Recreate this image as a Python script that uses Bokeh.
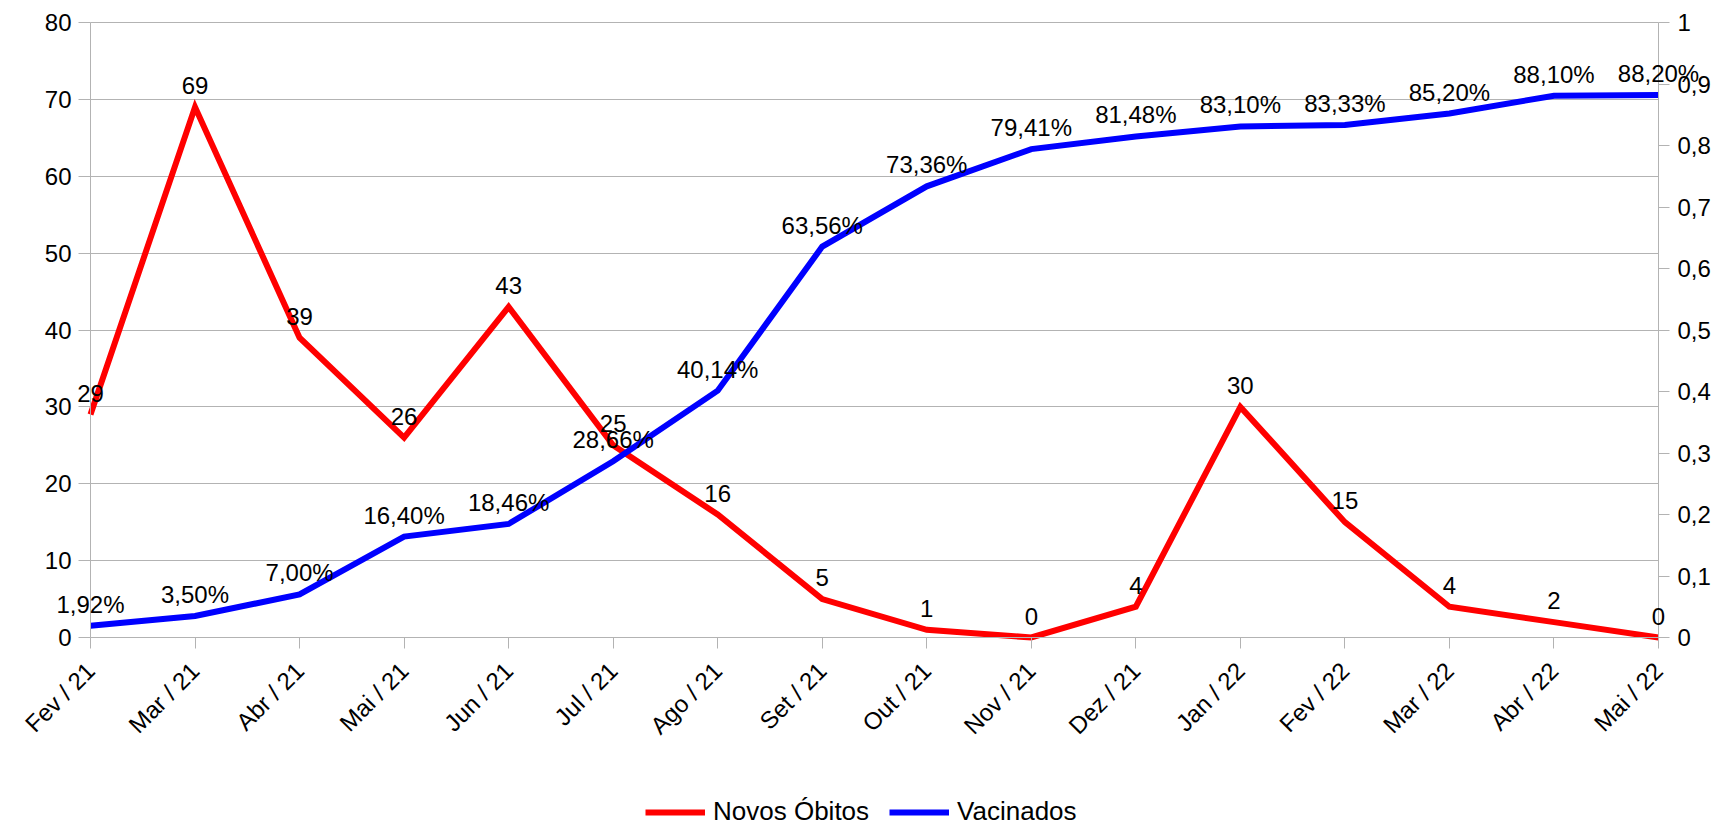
from bokeh.plotting import figure
from bokeh.models import (Range1d, LinearAxis, FixedTicker, ColumnDataSource,
                          LabelSet, Legend, LegendItem, Grid)
from bokeh.core.properties import value
from bokeh.embed import file_html
from bokeh.resources import INLINE

months = ["Fev / 21", "Mar / 21", "Abr / 21", "Mai / 21", "Jun / 21", "Jul / 21",
          "Ago / 21", "Set / 21", "Out / 21", "Nov / 21", "Dez / 21", "Jan / 22",
          "Fev / 22", "Mar / 22", "Abr / 22", "Mai / 22"]
obitos = [29, 69, 39, 26, 43, 25, 16, 5, 1, 0, 4, 30, 15, 4, 2, 0]
vacinados = [0.0192, 0.0350, 0.0700, 0.1640, 0.1846, 0.2866, 0.4014, 0.6356,
             0.7336, 0.7941, 0.8148, 0.8310, 0.8333, 0.8520, 0.8810, 0.8820]
left_ticks = [0, 10, 20, 30, 40, 50, 60, 70, 80]
right_ticks = [0, 0.1, 0.2, 0.3, 0.4, 0.5, 0.6, 0.7, 0.8, 0.9, 1]
right_tick_labels = ["0", "0,1", "0,2", "0,3", "0,4", "0,5", "0,6", "0,7", "0,8", "0,9", "1"]

FONT = "Liberation Sans"
GREY = "#b3b3b3"

# canvas layout (figure pixels); the frame fills the whole canvas so that
# labels near the edges are never clipped
W, H = 1721, 828
AX_L, AX_R = 90, 1658      # x of first / last category
AX_T, AX_B = 22, 637       # y of top (80 / 1) and bottom (0)
n = len(months)
ppx = (AX_R - AX_L) / (n - 1)
x_start, x_end = -AX_L / ppx, (n - 1) + (W - AX_R) / ppx
L_MAX, R_MAX = left_ticks[-1], right_ticks[-1]
ppl = (AX_B - AX_T) / L_MAX
ppr = (AX_B - AX_T) / R_MAX

xs = list(range(n))
src = ColumnDataSource(dict(
    x=xs, ob=obitos, vac=vacinados,
    ob_lbl=[str(v) for v in obitos],
    vac_lbl=[("%.2f%%" % (v * 100)).replace(".", ",") for v in vacinados],
))

p = figure(width=W, height=H, output_backend="svg", toolbar_location=None,
           x_range=Range1d(x_start, x_end),
           y_range=Range1d(-(H - AX_B) / ppl, L_MAX + AX_T / ppl),
           min_border=0, min_border_left=0, min_border_right=0,
           min_border_top=0, min_border_bottom=0)
p.outline_line_color = None
p.background_fill_color = "white"
p.border_fill_color = "white"
p.extra_y_ranges = {"pct": Range1d(-(H - AX_B) / ppr, R_MAX + AX_T / ppr)}


def style_axis(ax):
    ax.axis_line_color = GREY
    ax.major_tick_line_color = GREY
    ax.major_tick_in = 0
    ax.major_tick_out = 11
    ax.minor_tick_line_color = None
    ax.major_label_text_font = FONT
    ax.major_label_text_font_size = "24px"
    ax.major_label_text_color = "black"
    ax.major_label_standoff = 7


xa = p.xaxis[0]
xa.ticker = FixedTicker(ticks=xs)
xa.bounds = (0, n - 1)
xa.fixed_location = 0
xa.major_label_overrides = {i: m for i, m in enumerate(months)}
xa.major_label_orientation = 0.785398
style_axis(xa)
xa.major_label_standoff = 18

ya = p.yaxis[0]
ya.ticker = FixedTicker(ticks=left_ticks)
ya.bounds = (0, L_MAX)
ya.fixed_location = 0
style_axis(ya)
ya.major_tick_out = 12

ra = LinearAxis(y_range_name="pct", ticker=FixedTicker(ticks=right_ticks),
                fixed_location=n - 1, bounds=(0, R_MAX))
ra.major_label_overrides = {t: l for t, l in zip(right_ticks, right_tick_labels)}
style_axis(ra)
ra.major_label_standoff = 8
p.add_layout(ra, "right")

p.xgrid.grid_line_color = None
if "cross_bounds" in Grid.properties():
    p.ygrid.ticker = FixedTicker(ticks=left_ticks)
    p.ygrid.bounds = (0, L_MAX)
    p.ygrid.grid_line_color = GREY
    p.ygrid.cross_bounds = (0, n - 1)
else:
    p.ygrid.grid_line_color = None
    p.segment(x0=[0] * len(left_ticks), x1=[n - 1] * len(left_ticks),
              y0=left_ticks, y1=left_ticks, line_color=GREY, line_width=1,
              level="underlay")

r_ob = p.line("x", "ob", source=src, line_color="#ff0000", line_width=6,
              line_join="miter")
r_vac = p.line("x", "vac", source=src, line_color="#0000ff", line_width=6,
               line_join="miter", y_range_name="pct")

lbl_ob = LabelSet(x="x", y="ob", text="ob_lbl", source=src, text_align="center",
                  text_baseline="alphabetic", y_offset=13,
                  text_font=value(FONT), text_font_size="24px", text_color="black")
lbl_vac = LabelSet(x="x", y="vac", text="vac_lbl", source=src, y_range_name="pct",
                   text_align="center", text_baseline="alphabetic", y_offset=13,
                   text_font=value(FONT), text_font_size="24px", text_color="black")
p.add_layout(lbl_ob)
p.add_layout(lbl_vac)

legend = Legend(items=[LegendItem(label="Novos Óbitos", renderers=[r_ob]),
                       LegendItem(label="Vacinados", renderers=[r_vac])],
                orientation="horizontal", location=(645, 1),
                padding=0, margin=0, spacing=20, label_standoff=8,
                glyph_width=60, glyph_height=20, label_height=20,
                label_text_font=FONT, label_text_font_size="26px",
                label_text_color="black", label_text_baseline="middle",
                border_line_color=None, background_fill_alpha=0)
p.add_layout(legend, "center")

open("out.html", "w").write(file_html(p, INLINE))
